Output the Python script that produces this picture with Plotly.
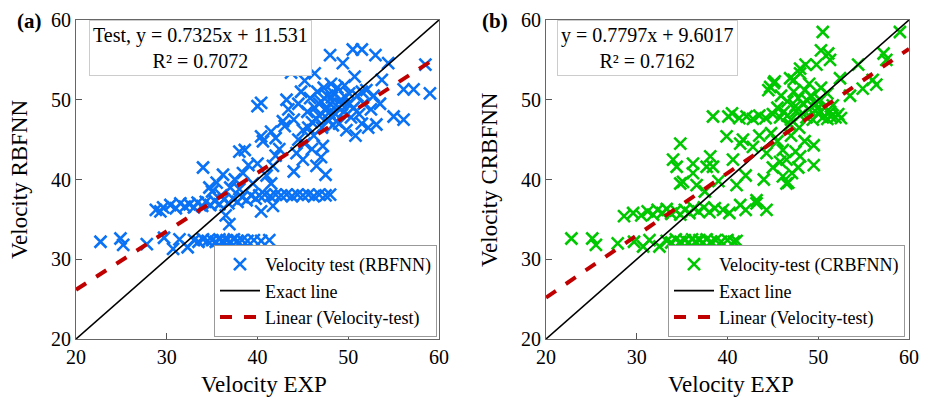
import plotly.graph_objects as go

# ---- data ----
rbf_pts = [
    (22.7,32.2),(24.9,32.6),(25.2,31.8),(27.8,31.9),(29.7,32.7),(30.7,31.3),(31.4,32.5),(32.3,31.5),
    (33.0,32.4),(33.5,32.2),(34.0,32.5),(34.5,32.3),(35.0,32.4),(35.4,32.2),(35.8,32.5),(36.2,32.3),
    (36.6,32.4),(37.0,32.2),(37.4,32.5),(37.8,32.3),(38.3,32.4),(38.9,32.3),(39.6,32.4),(40.4,32.3),(41.3,32.4),
    (28.8,36.2),(29.3,36.0),(29.6,36.5),(30.4,36.8),(31.0,36.4),(31.5,37.0),(32.0,36.6),(32.5,36.9),
    (33.0,36.5),(33.4,37.1),(33.9,36.7),(34.3,37.2),(34.8,36.8),(35.3,37.3),(35.8,36.9),(36.3,37.5),
    (36.8,37.0),(37.3,37.6),(37.8,37.2),(38.3,37.8),(38.8,37.4),(39.3,38.0),(39.8,37.6),
    (36.9,34.4),(36.5,35.5),(40.4,36.0),(41.7,36.7),
    (40.2,38.0),(40.8,38.1),(41.4,37.9),(42.0,38.1),(42.6,38.0),(43.2,38.1),(43.8,37.9),(44.4,38.1),
    (45.0,38.0),(45.6,38.1),(46.2,37.9),(46.8,38.1),(47.5,38.0),(48.0,38.1),
    (34.0,41.5),(35.5,39.6),(34.7,39.0),(36.2,40.6),(35.0,38.5),(36.0,38.0),(37.0,39.0),(37.5,40.0),
    (38.0,38.8),(38.4,40.8),(38.6,43.7),(38.0,43.5),(39.0,41.8),(39.5,39.5),(40.0,42.0),(40.4,45.4),
    (40.6,44.8),(40.0,49.2),(40.4,49.6),(41.0,40.5),(41.7,41.7),(41.5,39.5),(42.0,43.0),(42.4,43.8),
    (42.8,47.3),(43.0,46.7),(43.2,50.0),(43.4,48.8),(43.7,53.4),(44.3,43.3),(44.0,41.0),(44.5,45.0),
    (45.0,42.5),(45.2,44.5),(45.6,46.5),(46.0,43.8),(46.5,41.7),(46.2,45.5),(47.0,42.8),(47.2,44.2),
    (47.5,40.6),(41.5,46.0),(42.0,45.2),(44.0,47.5),(44.5,49.5),(45.0,46.2),(44.8,51.0),(45.2,52.4),
    (45.5,48.5),(45.8,50.2),(46.0,47.2),(46.3,49.0),(46.3,53.3),(46.6,51.0),(46.8,48.0),(47.0,49.8),
    (47.1,46.5),(47.3,51.5),(47.5,48.7),(47.7,50.5),(47.8,47.5),(48.0,49.5),(48.1,52.0),(48.3,46.8),
    (48.4,50.8),(48.6,48.2),(48.8,51.5),(48.9,49.0),(49.0,47.0),(49.2,50.0),(49.4,54.6),(49.5,48.5),
    (49.6,51.8),(49.8,46.2),(50.0,49.5),(50.1,50.8),(50.3,47.8),(50.5,56.3),(50.6,49.0),(50.7,52.9),
    (50.8,45.5),(51.0,50.5),(51.2,48.2),(51.5,56.3),(51.5,47.0),(51.7,49.5),(52.0,51.2),(52.2,46.5),
    (52.5,48.8),(52.8,50.5),(53.0,55.6),(53.1,46.9),(53.5,49.5),(53.7,52.5),(54.4,54.6),(55.0,47.9),
    (56.1,47.5),(56.1,51.3),(57.2,51.3),(58.5,54.4),(59.0,50.8),(48.0,55.6),(51.5,51.0),
    (46.8,49.5),(47.6,49.0),(48.2,50.3),(49.3,49.4),(47.9,48.4),(46.5,47.6),(49.7,50.3),(48.7,47.3),
]
crbf_pts = [
    (22.8,32.6),(25.1,32.6),(25.5,31.8),(27.9,32.0),(29.7,32.2),(30.7,31.6),(31.4,32.4),(32.5,31.6),
    (33.3,32.3),(33.8,32.1),(34.3,32.5),(34.8,32.2),(35.3,32.4),(35.7,32.1),(36.1,32.5),(36.5,32.2),
    (36.9,32.4),(37.3,32.1),(37.7,32.5),(38.2,32.2),(38.7,32.4),(39.3,32.2),(40.0,32.4),(40.7,32.2),(41.0,32.3),
    (28.6,35.4),(29.6,35.8),(30.5,35.5),(31.2,36.0),(31.8,35.6),(32.3,36.2),(32.8,35.8),(33.3,36.3),
    (33.8,35.7),(34.3,36.1),(34.8,35.6),(35.3,36.2),(35.8,35.8),(36.3,36.4),(36.8,36.0),(37.4,36.5),
    (38.0,35.9),(38.6,36.4),(39.5,36.2),(40.2,35.8),(41.4,36.8),(42.0,36.2),(43.2,37.0),(44.3,36.2),(43.2,37.4),
    (34.8,39.5),(36.6,39.3),(41.0,39.3),(46.5,39.5),(46.7,39.6),(34.8,44.5),(34.0,42.5),(34.4,41.6),
    (35.1,39.7),(36.2,42.0),(36.2,40.8),(38.1,42.9),(38.4,41.6),(37.7,41.6),(39.9,45.4),(41.7,45.0),
    (40.6,42.5),(41.4,44.5),(42.8,44.1),(44.3,43.3),(46.1,43.7),(46.5,42.5),(48.0,42.9),(49.5,44.3),
    (49.5,41.8),(47.1,40.8),(46.1,40.4),(45.0,41.5),(45.5,44.8),(47.0,45.5),(47.5,43.5),(44.8,45.8),
    (43.5,45.5),(42.0,40.5),(39.0,39.8),(37.5,38.5),(44.0,40.0),(45.8,42.2),(47.8,41.5),(48.5,44.8),
    (38.4,47.9),(40.1,47.9),(40.5,48.3),(41.3,47.7),(42.1,47.9),(42.8,47.6),(43.5,48.0),(44.2,47.7),
    (45.0,48.2),(45.8,47.8),(46.6,48.0),
    (45.5,49.0),(45.9,50.5),(46.2,48.5),(46.6,49.8),(47.0,47.5),(47.3,51.0),(47.5,49.2),(47.8,50.2),
    (48.0,48.0),(48.3,49.5),(48.5,51.2),(48.7,47.8),(49.0,48.8),(49.2,50.5),(49.4,47.5),(49.7,49.5),
    (50.0,48.2),(50.2,50.0),(50.5,47.8),(50.7,49.0),(51.0,47.6),(51.3,48.5),(51.6,49.3),(51.9,47.8),
    (52.2,48.2),(52.5,47.7),(50.3,51.5),(49.0,52.0),(51.0,50.8),
    (44.7,51.6),(45.1,52.1),(46.9,52.7),(47.3,52.5),(45.2,52.3),(44.5,51.2),(48.0,53.3),(48.0,53.9),
    (48.6,54.4),(49.8,54.4),(50.5,58.5),(50.3,56.2),(51.1,55.8),(51.3,55.0),(52.4,52.7),(54.4,54.4),
    (56.0,52.5),(56.4,51.9),(54.9,51.4),(57.2,55.8),(57.5,55.0),(59.0,58.5),(53.5,50.5),
    (47.6,48.6),(48.8,49.9),(49.9,48.9),(51.4,47.9),(46.9,46.9),(47.9,46.5),
]
rbf_x = [p[0] for p in rbf_pts]
rbf_y = [p[1] for p in rbf_pts]
crbf_x = [p[0] for p in crbf_pts]
crbf_y = [p[1] for p in crbf_pts]

exact_x = [20, 60]
fit_a = (0.7325, 11.531)
fit_b = (0.7797, 9.6017)

FONT = "Liberation Serif"
BLUE = "#0a72f5"
GREEN = "#00c800"
RED = "#c00000"

fig = go.Figure()

def add_panel(xs, ys, color, name, fit, xa, ya, legend):
    fig.add_trace(go.Scatter(x=xs, y=ys, mode="markers", name=name,
                             marker=dict(symbol="x-thin", size=12, color=color,
                                         line=dict(width=2.6, color=color)),
                             xaxis=xa, yaxis=ya, legend=legend))
    fig.add_trace(go.Scatter(x=exact_x, y=exact_x, mode="lines", name="Exact line",
                             line=dict(color="black", width=1.6),
                             xaxis=xa, yaxis=ya, legend=legend))
    fy = [fit[0] * v + fit[1] for v in exact_x]
    fig.add_trace(go.Scatter(x=exact_x, y=fy, mode="lines", name="Linear (Velocity-test)",
                             line=dict(color=RED, width=4, dash="dash"),
                             xaxis=xa, yaxis=ya, legend=legend))

add_panel(rbf_x, rbf_y, BLUE, "Velocity test (RBFNN)", fit_a, "x", "y", "legend")
add_panel(crbf_x, crbf_y, GREEN, "Velocity-test (CRBFNN)", fit_b, "x2", "y2", "legend2")

axis_common = dict(range=[20, 60], tickvals=[20, 30, 40, 50, 60], ticks="inside", ticklen=6,
                   tickcolor="#555", showline=True, linecolor="#666", linewidth=1.2, mirror=True,
                   showgrid=False, zeroline=False, automargin=False,
                   tickfont=dict(family=FONT, size=20, color="black"))

# page has an 8px body margin: work in page pixels, then shift
OFF = 8
FW, FH = 933 - OFF, 402 - OFF
L = 76 - OFF; R = 909 - OFF; T = 20 - OFF; B = 339 - OFF
W = R - L; H = B - T
def px(v): return (v - OFF - L) / W
def py(v): return (B - (v - OFF)) / H

legend_common = dict(xanchor="right", yanchor="bottom", bgcolor="white", bordercolor="#999",
                     borderwidth=1, font=dict(family=FONT, size=18), tracegroupgap=0,
                     itemwidth=40)

fig.update_layout(
    width=FW, height=FH,
    margin=dict(l=L, r=FW - R, t=T, b=FH - B, autoexpand=False),
    plot_bgcolor="white", paper_bgcolor="white",
    xaxis=dict(domain=[0, px(439)], anchor="y", **axis_common),
    yaxis=dict(domain=[0, 1], anchor="x", **axis_common),
    xaxis2=dict(domain=[px(546), 1], anchor="y2", **axis_common),
    yaxis2=dict(domain=[0, 1], anchor="x2", **axis_common),
    font=dict(family=FONT, color="black"),
    legend=dict(x=px(437), y=py(337), **legend_common),
    legend2=dict(x=px(905), y=py(337), **legend_common),
    showlegend=True,
)

def ann(text, x, y, size=20, angle=0, bold=False, **kw):
    fig.add_annotation(text=("<b>%s</b>" % text) if bold else text,
                       x=px(x), y=py(y), xref="paper", yref="paper", showarrow=False,
                       xanchor="center", yanchor="middle",
                       textangle=angle, font=dict(family=FONT, size=size, color="black"), **kw)

ann("Velocity EXP", 264, 384, size=23)
ann("Velocity EXP", 731, 384, size=23)
ann("Velocity RBFNN", 20, 180, size=23, angle=-90)
ann("Velocity CRBFNN", 490, 180, size=23, angle=-90)
ann("(a)", 29, 21, size=21, bold=True)
ann("(b)", 495, 21, size=21, bold=True)
ann("Test, y = 0.7325x + 11.531<br>R² = 0.7072", 200, 48, size=20,
    bordercolor="#cccccc", borderwidth=1, bgcolor="white", borderpad=3)
ann("y = 0.7797x + 9.6017<br>R² = 0.7162", 647, 48, size=20,
    bordercolor="#cccccc", borderwidth=1, bgcolor="white", borderpad=3)

fig.write_html("out.html")
